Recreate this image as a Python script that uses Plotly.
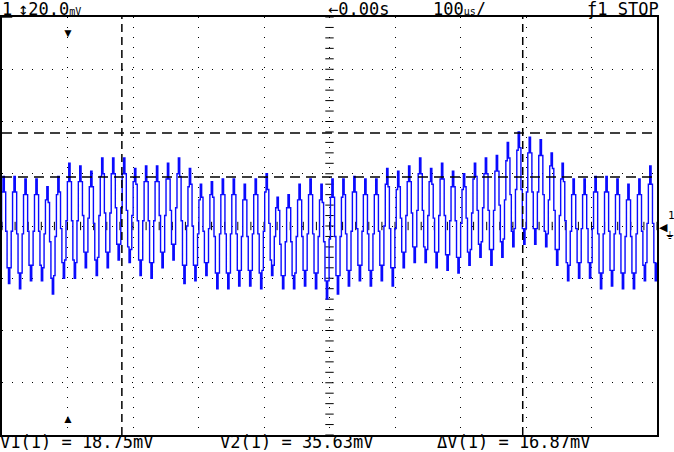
import numpy as np
import plotly.graph_objects as go

channel_label = "1"
volts_per_div = "20.0"
delay_label = "←0.00s"
time_per_div = "100"
trigger_label = "ƒ1 STOP"
cursor_labels = ["V1(1) = 18.75mV", "V2(1) = 35.63mV", "ΔV(1) = 16.87mV"]

v1_mv = 18.75
v2_mv = 35.63
t1_cursor_us = 83
t2_cursor_us = 695

first_sample_us = -104.8
sample_interval_us = 2.092

# sampled trace (mV), one row per cycle of the signal
trace_mv = [
    -14, -1, 13, 19, 13, -2, -16, -22,
    -16, -2, 13, 19, 13, -3, -18, -24,
    -18, -3, 12, 18, 12, -2, -15, -21,
    -15, -2, 12, 18, 12, -2, -15, -21,
    -16, -3, 10, 15, 9, -6, -20, -26,
    -19, -4, 12, 19, 13, -1, -14, -20,
    -13, 2, 17, 24, 17, 2, -13, -20,
    -14, 2, 17, 23, 17, 4, -10, -16,
    -10, 3, 15, 21, 15, 1, -13, -19,
    -12, 4, 19, 26, 20, 5, -10, -16,
    -10, 5, 20, 26, 20, 7, -7, -13,
    -7, 7, 20, 26, 20, 6, -8, -14,
    -9, 4, 17, 22, 16, 2, -13, -19,
    -13, 2, 17, 23, 17, 2, -14, -20,
    -14, 2, 17, 23, 17, 4, -10, -16,
    -10, 4, 18, 24, 18, 6, -7, -13,
    -7, 7, 20, 26, 19, 2, -15, -22,
    -15, 0, 15, 22, 16, 0, -15, -21,
    -15, -3, 10, 16, 11, -2, -14, -19,
    -14, -1, 12, 17, 11, -4, -18, -24,
    -18, -3, 12, 18, 12, -3, -18, -24,
    -18, -3, 12, 18, 12, -3, -17, -23,
    -17, -4, 10, 16, 10, -4, -17, -23,
    -17, -3, 12, 18, 12, -3, -18, -24,
    -17, -2, 13, 20, 14, 1, -13, -19,
    -15, -4, 7, 11, 6, -7, -19, -24,
    -19, -6, 7, 12, 7, -6, -19, -24,
    -18, -4, 10, 16, 10, -4, -17, -23,
    -17, -3, 12, 18, 12, -3, -18, -24,
    -18, -4, 10, 16, 9, -6, -21, -28,
    -21, -5, 11, 18, 11, -4, -19, -26,
    -19, -4, 11, 18, 12, -3, -17, -23,
    -17, -2, 13, 19, 13, -1, -15, -21,
    -15, -2, 12, 18, 12, -3, -17, -23,
    -17, -3, 12, 18, 12, -2, -15, -21,
    -15, 0, 16, 22, 15, -1, -16, -23,
    -16, -1, 14, 21, 15, 3, -10, -16,
    -10, 4, 17, 23, 17, 5, -8, -14,
    -8, 6, 20, 26, 20, 6, -8, -14,
    -9, 4, 17, 22, 16, 3, -10, -16,
    -10, 4, 18, 24, 18, 4, -11, -17,
    -11, 2, 15, 21, 15, 2, -12, -18,
    -12, 1, 14, 20, 15, 3, -10, -15,
    -9, 5, 18, 24, 19, 6, -7, -12,
    -6, 7, 20, 26, 20, 6, -9, -15,
    -9, 6, 21, 27, 21, 8, -6, -12,
    -5, 10, 25, 32, 26, 12, -2, -8,
    -1, 14, 29, 36, 30, 14, -1, -7,
    -1, 13, 28, 34, 28, 13, -1, -7,
    -1, 13, 27, 33, 27, 12, -2, -8,
    -3, 10, 23, 28, 22, 6, -9, -15,
    -9, 4, 18, 24, 17, 2, -14, -21,
    -15, -2, 12, 18, 12, -1, -14, -20,
    -14, -1, 12, 18, 12, -1, -14, -20,
    -14, -1, 13, 19, 13, -3, -18, -24,
    -18, -3, 13, 19, 13, -2, -17, -23,
    -17, -3, 12, 18, 12, -3, -18, -24,
    -18, -4, 10, 16, 10, -4, -18, -24,
    -18, -3, 12, 18, 12, -2, -15, -21,
    -14, 1, 16, 23, 16, 1, -14, -21,
    -14,
]

# ---------------- figure ----------------
W, H = 674, 452
ML, MR, MT, MB = 2, 17, 17, 17
X_RANGE = [-100, 900]   # us, 100 us/div
Y_RANGE = [-80, 80]     # mV, 20 mV/div

t_us = first_sample_us + sample_interval_us * np.arange(len(trace_mv))

FONT = "DejaVu Sans Mono"
BLUE = "#0a0aff"

fig = go.Figure()

# graticule minor ticks on the centre axes
cx_ticks = np.arange(X_RANGE[0], X_RANGE[1] + 1, 20)
cy_ticks = np.arange(Y_RANGE[0], Y_RANGE[1] + 1, 4)
fig.add_trace(go.Scatter(
    x=cx_ticks, y=np.zeros_like(cx_ticks), mode="markers",
    marker=dict(symbol="line-ns", size=6, line=dict(color="black", width=1)),
    hoverinfo="skip", showlegend=False))
fig.add_trace(go.Scatter(
    x=np.full_like(cy_ticks, 400), y=cy_ticks, mode="markers",
    marker=dict(symbol="line-ew", size=6, line=dict(color="black", width=1)),
    hoverinfo="skip", showlegend=False))

# cursors
for v in (v1_mv, v2_mv):
    fig.add_shape(type="line", xref="paper", x0=0, x1=1, yref="y", y0=v, y1=v,
                  line=dict(color="black", width=1.5, dash="10px,6px"))
for t in (t1_cursor_us, t2_cursor_us):
    fig.add_shape(type="line", yref="paper", y0=0, y1=1, xref="x", x0=t, x1=t,
                  line=dict(color="black", width=1.5, dash="8px,5px"))

# waveform
fig.add_trace(go.Scatter(
    x=t_us, y=trace_mv, mode="lines", line=dict(color=BLUE, width=1.4, shape="hv"),
    hoverinfo="skip", showlegend=False))


def px_x(px):
    return (px - ML) / (W - ML - MR)


def px_y(py):
    return (H - MB - py) / (H - MT - MB)


small = "<span style='font-size:10px'>%s</span>"
top_items = [
    ("<u>" + channel_label + "</u>", 0),
    ("↕" + volts_per_div + small % "mV", 16),
    (delay_label, 326),
    (time_per_div + small % "µs" + "/", 431),
    (trigger_label, 585),
]
for txt, x in top_items:
    fig.add_annotation(text=txt, xref="paper", yref="paper", x=px_x(x), y=px_y(9),
                       xanchor="left", yanchor="middle", showarrow=False,
                       font=dict(family=FONT, size=17, color="black"))

for txt, x in zip(cursor_labels, [-2, 218, 435]):
    fig.add_annotation(text=txt, xref="paper", yref="paper", x=px_x(x), y=px_y(442),
                       xanchor="left", yanchor="middle", showarrow=False,
                       font=dict(family=FONT, size=17, color="black"))

# trigger position markers
fig.add_annotation(text="▼", xref="x", yref="paper", x=0, y=px_y(22),
                   showarrow=False, font=dict(size=12, color="black"))
fig.add_annotation(text="▲", xref="x", yref="paper", x=0, y=px_y(429),
                   showarrow=False, font=dict(size=12, color="black"))
# ground marker
fig.add_annotation(text="◀", xref="paper", yref="y", x=px_x(657), y=0,
                   xanchor="left", showarrow=False, font=dict(size=11, color="black"))
fig.add_annotation(text="1", xref="paper", yref="paper", x=px_x(666), y=px_y(215),
                   xanchor="left", showarrow=False, font=dict(family=FONT, size=11, color="black"))
fig.add_annotation(text="⏚", xref="paper", yref="paper", x=px_x(664), y=px_y(234),
                   xanchor="left", showarrow=False, font=dict(size=11, color="black"))

axis_common = dict(showticklabels=False, ticks="", zeroline=False,
                   showline=True, linecolor="black", linewidth=2, mirror=True,
                   showgrid=True, gridcolor="black", gridwidth=1, griddash="1px,9px")

fig.update_layout(
    width=W, height=H,
    margin=dict(l=ML, r=MR, t=MT, b=MB),
    paper_bgcolor="white", plot_bgcolor="white",
    xaxis=dict(range=X_RANGE, dtick=100, tick0=0, **axis_common),
    yaxis=dict(range=Y_RANGE, dtick=20, tick0=0, **axis_common),
    showlegend=False,
)

fig.write_html("out.html", config={"displayModeBar": False},
               post_script="document.body.style.margin='0';document.body.style.overflow='hidden';")
